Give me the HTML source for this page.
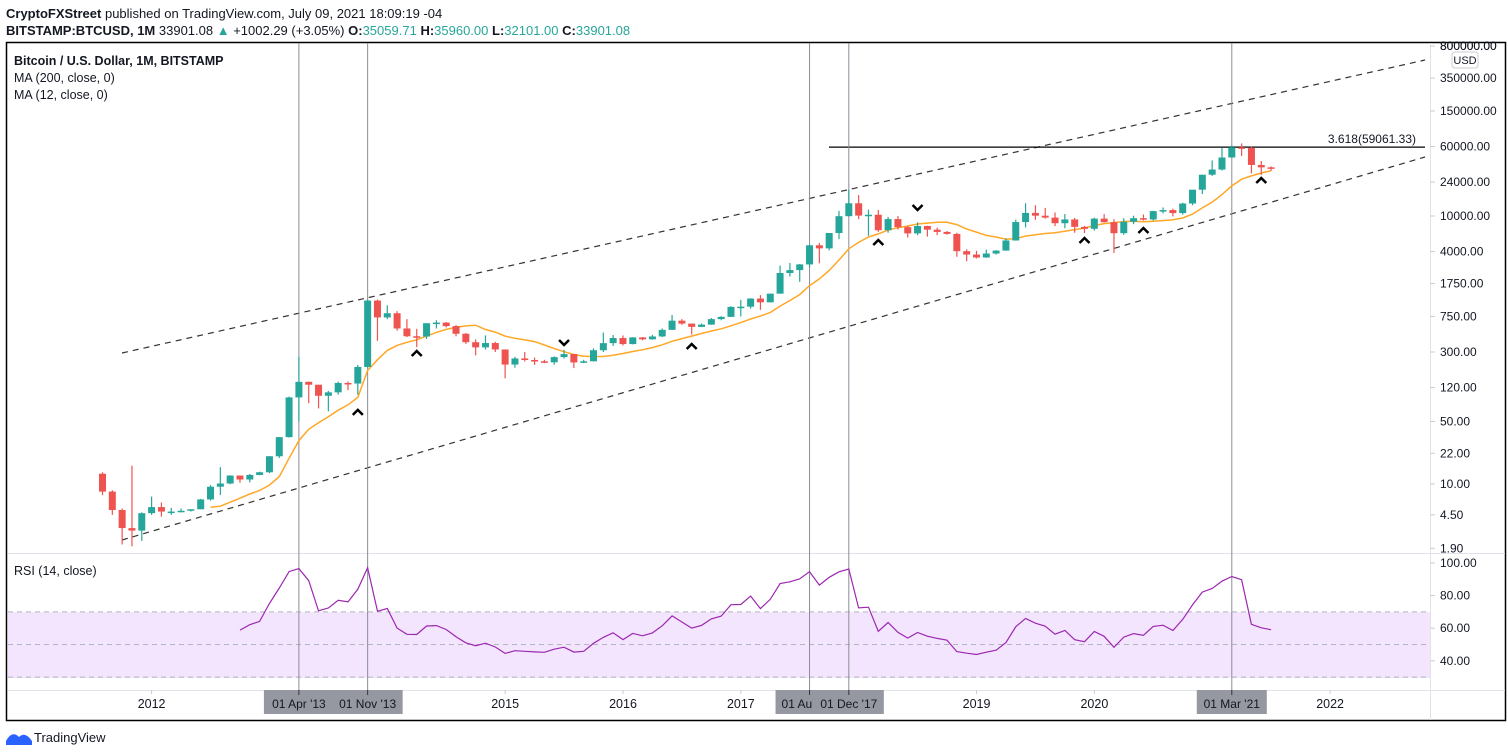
<!DOCTYPE html>
<html><head><meta charset="utf-8"><style>
body{margin:0;background:#fff;width:1508px;height:755px;overflow:hidden;font-family:"Liberation Sans",sans-serif}
svg{position:absolute;left:0;top:0}
text{font-family:"Liberation Sans",sans-serif}
</style></head><body>
<svg id="c" width="1508" height="755">
<text x="6" y="18" font-size="13" fill="#131722"><tspan font-weight="bold">CryptoFXStreet</tspan> published on TradingView.com, July 09, 2021 18:09:19 -04</text>
<text x="6" y="35" font-size="13" fill="#131722"><tspan font-weight="bold">BITSTAMP:BTCUSD, 1M</tspan> 33901.08 <tspan fill="#26a69a">▲</tspan> +1002.29 (+3.05%) <tspan font-weight="bold">O:</tspan><tspan fill="#26a69a">35059.71</tspan> <tspan font-weight="bold">H:</tspan><tspan fill="#26a69a">35960.00</tspan> <tspan font-weight="bold">L:</tspan><tspan fill="#26a69a">32101.00</tspan> <tspan font-weight="bold">C:</tspan><tspan fill="#26a69a">33901.08</tspan></text>
<rect x="6.5" y="42.5" width="1499" height="678" fill="none" stroke="#000" stroke-width="1.5"/>
<rect x="8" y="612" width="1422" height="66" fill="#f3e5fd"/>
<g id="grid"></g>
<g id="main"></g>
<text x="14" y="65" font-size="12.5" font-weight="bold" fill="#131722">Bitcoin / U.S. Dollar, 1M, BITSTAMP</text>
<text x="14" y="82" font-size="12.5" fill="#131722">MA (200, close, 0)</text>
<text x="14" y="99" font-size="12.5" fill="#131722">MA (12, close, 0)</text>
<text x="14" y="575" font-size="12.5" fill="#131722">RSI (14, close)</text>
<rect x="1452" y="52" width="26" height="16" rx="3" fill="#fff" stroke="#ccc"/>
<text x="1465" y="64" font-size="11" text-anchor="middle" fill="#131722">USD</text>
<g>
<path d="M6 745 L6 741 Q12 730 19 737 Q25 731 32 741 L32 745 Z" fill="#2962ff"/>
<text x="34" y="742" font-size="13" fill="#131722">TradingView</text>
</g>
</svg>
<script>
const startLabel = "2011-08";
const opens = [13,8.2,5.1,3.2,3.0,4.7,5.5,4.9,4.9,5.0,5.2,6.7,9.3,10.1,12.4,11.2,12.6,13.5,20.4,33.4,93,139,129,97,106,135,133,204,1130,732,815,550,450,447,630,640,585,480,386,338,378,320,217,254,244,236,230,263,284,229,236,314,377,430,368,437,416,448,531,673,624,573,608,700,742,960,965,1190,1080,1350,2300,2480,2870,4700,4340,6450,9950,13880,10110,10330,6930,9240,7500,6390,7730,7030,6630,6300,4040,3700,3430,3800,4100,5320,8560,10820,10080,9600,8300,9150,7560,7190,9350,8530,6420,8620,9450,9140,11340,11650,10780,13800,19700,28990,33110,45200,58780,57700,37300,35060];
const highs = [13.5,8.5,5.3,16,4.8,7.2,6.2,5.4,5.3,5.2,6.8,9.7,15.4,12.5,12.4,12.9,13.7,20.5,33.5,95,266,140,129,110,140,140,215,1160,1160,1000,860,700,545,630,680,650,600,490,415,460,390,320,265,300,260,245,268,317,285,245,330,495,465,460,440,440,467,550,780,700,625,625,720,755,975,1150,1200,1300,1350,2780,2980,2900,4750,4980,6450,11400,19660,17170,11800,11700,9760,9980,7770,8500,7770,7400,6790,6500,4240,4080,4200,4140,5640,9100,13880,13200,12330,10950,10540,9500,7750,9560,10500,9200,9450,10070,10400,11450,12470,12090,14100,19480,29000,41950,58350,61780,64900,59500,41300,35960];
const lows = [7.5,4.5,2.1,2.0,2.3,4.5,4.3,4.5,4.8,4.9,5.2,6.5,7.5,9.9,10.3,10.4,12.5,13.2,19.5,33,50,80,70,65,100,112,100,200,400,700,520,440,340,420,550,565,450,370,275,320,300,152,200,235,215,225,216,253,198,225,235,300,350,355,365,405,412,440,530,605,470,570,605,680,740,750,920,890,1075,1350,2100,1830,2670,2950,4120,5500,9900,9200,6000,6650,6500,7050,5750,6100,5880,6100,6180,3500,3120,3350,3400,3700,4080,5300,7450,9070,9320,7710,7300,6500,6430,6860,8450,3850,6150,8100,8900,8900,10700,9880,10380,13200,17600,28100,32300,44950,47000,30000,28800,32101];
const closes = [8.2,5.1,3.2,3.0,4.7,5.5,4.9,4.9,5.0,5.2,6.7,9.3,10.1,12.4,11.2,12.6,13.5,20.4,33.4,93,139,129,97,106,135,133,204,1130,732,815,550,450,447,630,640,585,480,386,338,378,320,217,254,244,236,230,263,284,229,236,314,377,430,368,437,416,448,531,673,624,573,608,700,742,960,965,1190,1080,1350,2300,2480,2870,4700,4340,6450,9950,13880,10110,10330,6930,9240,7500,6390,7730,7030,6630,6300,4040,3700,3430,3800,4100,5320,8560,10820,10080,9600,8300,9150,7560,7190,9350,8530,6420,8620,9450,9140,11340,11650,10780,13800,19700,28990,33110,45200,58780,57700,37300,35060,33901];
const priceTicks = ["800000.00","350000.00","150000.00","60000.00","24000.00","10000.00","4000.00","1750.00","750.00","300.00","120.00","50.00","22.00","10.00","4.50","1.90"];
const rsiTicks = ["100.00","80.00","60.00","40.00"];
const yearLabels = ["2012","2015","2016","2017","2019","2020","2022"];
const markerUpIdx = [26,32,60,79,100,106,118];
const markerUpVals = [64,292,350,5120,5380,6970,25300];
const markerDownIdx = [47,83];
const markerDownVals = [378,12300];
const vlineIdx = [20,27,72,76,115];
const vlineLabels = ["01 Apr '13","01 Nov '13","01 Au","01 Dec '17","01 Mar '21"];
const fibLevel = 59061.33;

const NS="http://www.w3.org/2000/svg";
const main=document.getElementById('main'), grid=document.getElementById('grid');
function el(t,a,p){const e=document.createElementNS(NS,t);for(const k in a)e.setAttribute(k,a[k]);(p||main).appendChild(e);return e;}
const X=i=>151.6+9.82*(i-5);
const Y=v=>216-(Math.log10(v)-4)*89.3;
const RY=v=>563+(100-v)*1.63;
const yearX=y=>151.6+117.85*(+y-2012);

let l=el('line',{x1:8,y1:553.5,x2:1505,y2:553.5,stroke:'#e0e3eb'},grid);


l=el('line',{x1:8,y1:690.5,x2:1505,y2:690.5,stroke:'#e0e3eb'},grid);


l=el('line',{x1:1430.5,y1:43,x2:1430.5,y2:720,stroke:'#e0e3eb'},grid);


[70,50,30].forEach(v=>{const d=el('line',{x1:8,y1:RY(v),x2:1430,y2:RY(v),stroke:'#b2b5be','stroke-dasharray':'5,4'},grid);

});
priceTicks.forEach(t=>{const v=parseFloat(t),y=Y(v);
if(y<44)return;
el('line',{x1:1430,y1:y,x2:1435,y2:y,stroke:'#ccc'},grid);
const tx=el('text',{x:1440,y:y+4,'font-size':12,fill:'#131722'},grid);tx.textContent=t;

});
const topT=el('text',{x:1440,y:50,'font-size':12,fill:'#131722'},grid);topT.textContent=priceTicks[0];


rsiTicks.forEach(t=>{const y=RY(parseFloat(t));
el('line',{x1:1430,y1:y,x2:1435,y2:y,stroke:'#ccc'},grid);
const tx=el('text',{x:1440,y:y+4,'font-size':12,fill:'#131722'},grid);tx.textContent=t;

});
yearLabels.forEach(t=>{const x=yearX(t);
el('line',{x1:x,y1:690,x2:x,y2:694,stroke:'#ccc'},grid);
const tx=el('text',{x:x,y:708,'font-size':12.5,fill:'#131722','text-anchor':'middle'},grid);tx.textContent=t;

});

function chan(x1,y1,x2,y2,n){const c=el('line',{x1,y1,x2,y2,stroke:'#333','stroke-width':1.2,'stroke-dasharray':'6,5'});

}
chan(122,353,1425,60,'upper-channel-line');
chan(122,540,1425,157,'lower-channel-line');
const fy=Y(fibLevel);
const fl=el('line',{x1:829,y1:fy,x2:1425,y2:fy,stroke:'#000','stroke-width':1.2});


const ft=el('text',{x:1416,y:fy-4,'font-size':12,fill:'#131722','text-anchor':'end'});
ft.textContent='3.618('+fibLevel.toFixed(2)+')';



vlineIdx.forEach((i,k)=>{const x=X(i);
const v=el('line',{x1:x,y1:43,x2:x,y2:694,stroke:'#8a8d96','stroke-width':1});

});
vlineIdx.forEach((i,k)=>{const x=X(i);
const w=k==2?40:70;const left=k==2?x-34:x-35;
const r=el('rect',{x:left,y:690,width:w,height:24,fill:'#9598a1'});


el('line',{x1:x,y1:690,x2:x,y2:695,stroke:'#333'});
const t=el('text',{x:k==2?left+6:x,y:708,'font-size':12,fill:'#131722','text-anchor':k==2?'start':'middle'});
t.textContent=vlineLabels[k];

});

let pts=[];for(let i=11;i<closes.length;i++){let s=0;for(let j=i-11;j<=i;j++)s+=closes[j];pts.push(X(i).toFixed(1)+','+Y(s/12).toFixed(1));}
const ma=el('polyline',{points:pts.join(' '),fill:'none',stroke:'#ffa726','stroke-width':1.5});



for(let i=0;i<closes.length;i++){const up=closes[i]>=opens[i],col=up?'#26a69a':'#ef5350',x=X(i);
const g=el('g',{});


el('line',{x1:x,y1:Y(highs[i]),x2:x,y2:Y(lows[i]),stroke:col,'stroke-width':1.2},g);
const t=Y(Math.max(opens[i],closes[i])),b=Y(Math.min(opens[i],closes[i]));
el('rect',{x:x-3.5,y:t,width:7,height:Math.max(1.5,b-t),fill:col},g);}

function chev(x,y,dir,n){const d=dir>0?`M${x-5},${y+3} L${x},${y-2} L${x+5},${y+3}`:`M${x-5},${y-3} L${x},${y+2} L${x+5},${y-3}`;
const p=el('path',{d,fill:'none',stroke:'#000','stroke-width':2.5});

}
markerUpIdx.forEach((i,k)=>chev(X(i),Y(markerUpVals[k]),1,'support-marker'));
markerDownIdx.forEach((i,k)=>chev(X(i),Y(markerDownVals[k]),-1,'resistance-marker'));

let ag=0,al=0,rp=[];
for(let i=1;i<closes.length;i++){const d=closes[i]-closes[i-1],g=Math.max(d,0),lo=Math.max(-d,0);
if(i<=14){ag+=g/14;al+=lo/14;}else{ag=(ag*13+g)/14;al=(al*13+lo)/14;}
if(i>=14){const r=al==0?100:100-100/(1+ag/al);rp.push(X(i).toFixed(1)+','+RY(r).toFixed(1));}}
const rl=el('polyline',{points:rp.join(' '),fill:'none',stroke:'#9c27b0','stroke-width':1.2});


</script>
</body></html>
